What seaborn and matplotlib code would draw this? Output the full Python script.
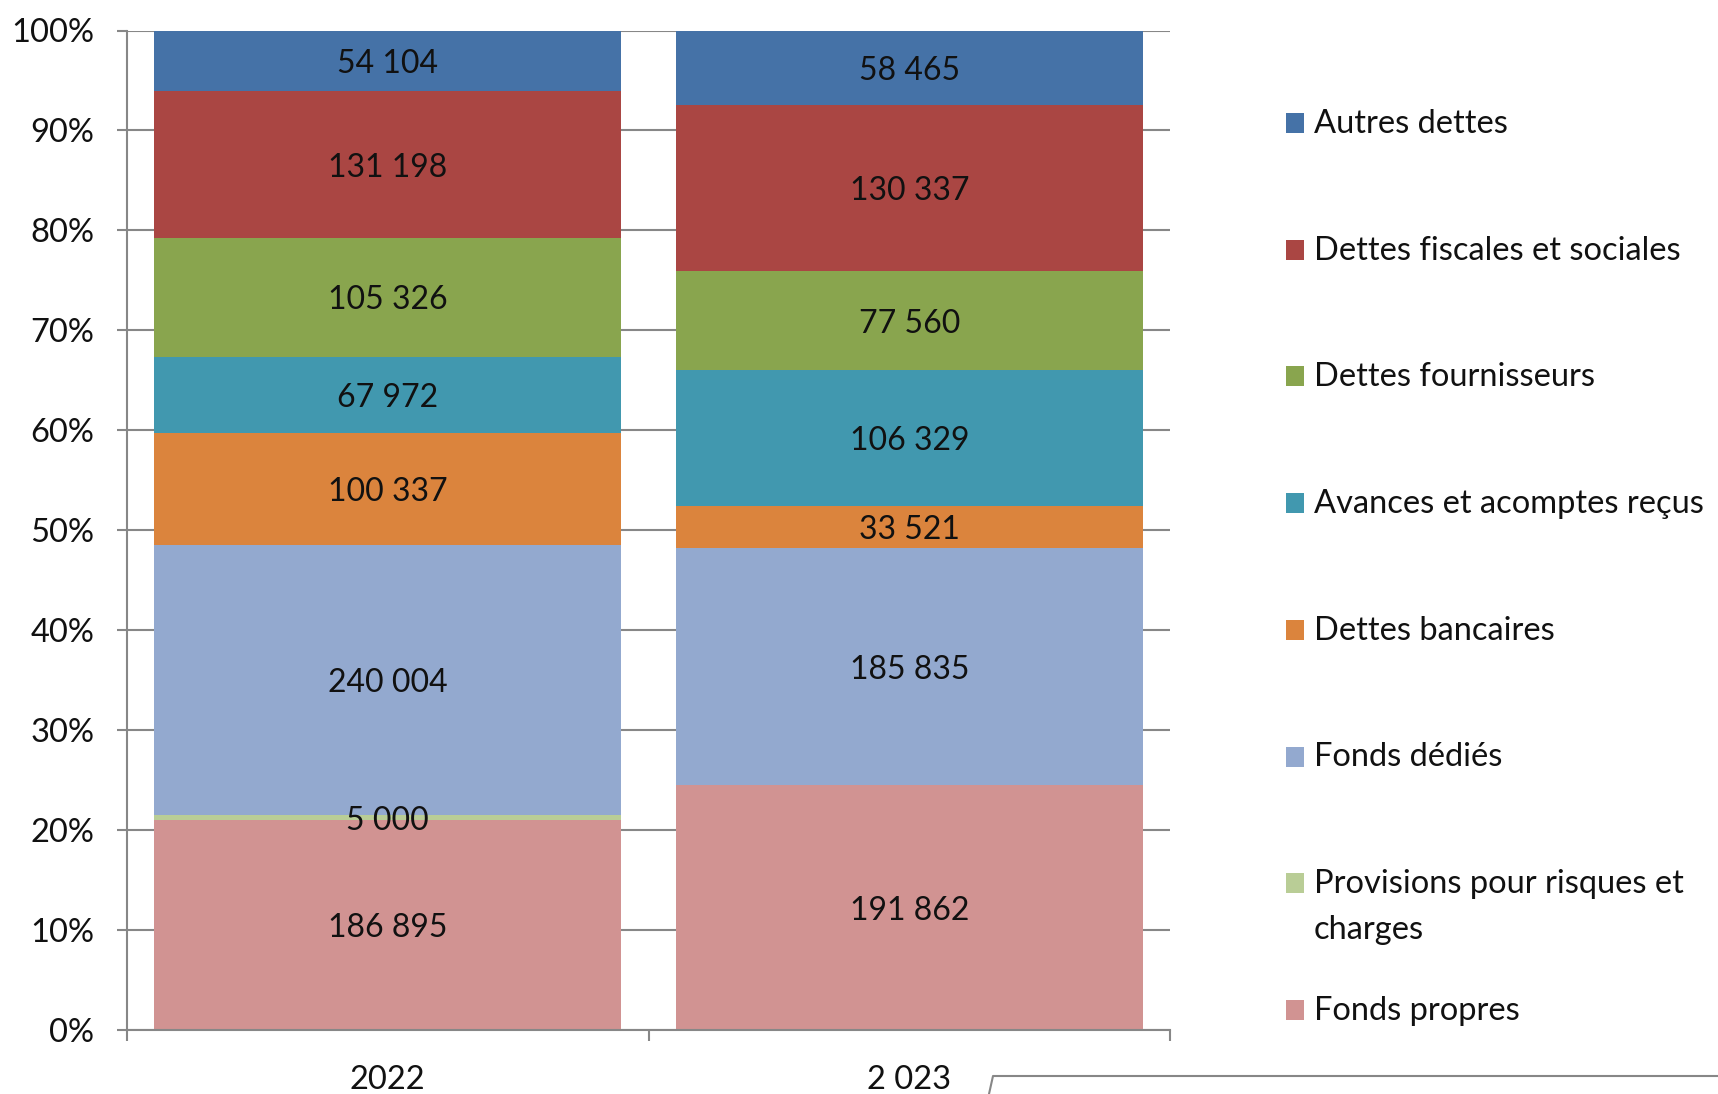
import matplotlib
matplotlib.use("Agg")
import matplotlib.pyplot as plt
import seaborn as sns
import pandas as pd
import numpy as np
from matplotlib.patches import Rectangle
from matplotlib.lines import Line2D

# ---------------- data ----------------
years = ["2022", "2 023"]
series = ["Fonds propres", "Provisions pour risques et charges", "Fonds dédiés",
          "Dettes bancaires", "Avances et acomptes reçus", "Dettes fournisseurs",
          "Dettes fiscales et sociales", "Autres dettes"]
fonds_propres = [186895, 191862]
provisions = [5000, 0]
fonds_dedies = [240004, 185835]
dettes_bancaires = [100337, 33521]
avances = [67972, 106329]
dettes_fournisseurs = [105326, 77560]
dettes_fiscales = [131198, 130337]
autres_dettes = [54104, 58465]
legend_labels = ["Autres dettes", "Dettes fiscales et sociales", "Dettes fournisseurs",
                 "Avances et acomptes reçus", "Dettes bancaires", "Fonds dédiés",
                 "Provisions pour risques et\ncharges", "Fonds propres"]
colors = ["#D19392", "#B9CD96", "#93A9CF", "#DB843D", "#4198AF", "#89A54E", "#AA4643", "#4572A7"]
ytick_labels = ["0%", "10%", "20%", "30%", "40%", "50%", "60%", "70%", "80%", "90%", "100%"]

values = [fonds_propres, provisions, fonds_dedies, dettes_bancaires, avances,
          dettes_fournisseurs, dettes_fiscales, autres_dettes]

# ---------------- build table ----------------
vals = np.array(values, dtype=float)
totals = vals.sum(axis=0)
pct = vals / totals
cum_top = np.cumsum(pct, axis=0)
cum_bot = cum_top - pct
rows = []
for si, s in enumerate(series):
    for yi, y in enumerate(years):
        rows.append(dict(year=y, series=s, value=vals[si, yi], pct=pct[si, yi],
                         top=cum_top[si, yi], bottom=cum_bot[si, yi]))
df = pd.DataFrame(rows)

# ---------------- style ----------------
sns.set_theme(style="white")
plt.rcParams["font.family"] = ["Lato", "DejaVu Sans"]
GRAY = "#878787"
FS = 23.5
FS_LAB = 23

fig = plt.figure(figsize=(17.18, 10.94), dpi=100)
ax = fig.add_axes([127 / 1718, 64 / 1094, (1170 - 127) / 1718, (1030 - 30.5) / 1094])

# stacked bars: draw cumulative heights from top series down
for si in range(len(series) - 1, -1, -1):
    sub = df[df.series == series[si]]
    sns.barplot(data=sub, x="year", y="top", order=years, color=colors[si],
                saturation=1, width=0.895, errorbar=None, linewidth=0, ax=ax, zorder=2)

# data labels
for _, r in df.iterrows():
    if r.value > 0:
        xi = years.index(r.year)
        txt = f"{int(r.value):,}".replace(",", " ")
        ax.text(xi, (r.top + r.bottom) / 2, txt, ha="center", va="center_baseline",
                fontsize=FS_LAB, color="#111111", zorder=5)

ax.set_xlim(-0.5, 1.5)
ax.set_ylim(0, 1)
ax.set_xlabel("")
ax.set_ylabel("")
ax.set_yticks(np.linspace(0, 1, 11))
ax.set_yticklabels(ytick_labels, fontsize=FS, color="#111111")
ax.set_xticks([0, 1])
ax.set_xticklabels(years, fontsize=FS, color="#111111")
ax.set_xticks([-0.5, 0.5, 1.5], minor=True)
ax.tick_params(axis="y", which="major", length=7.5, width=1.5, color=GRAY, pad=16, left=True)
ax.tick_params(axis="x", which="major", length=0, pad=25)
ax.tick_params(axis="x", which="minor", length=8, width=1.5, color=GRAY, bottom=True)

ax.grid(axis="y", color=GRAY, linewidth=1.5, zorder=0)
ax.grid(axis="x", visible=False)
ax.set_axisbelow(True)
for sp in ["top", "right"]:
    ax.spines[sp].set_visible(False)
for sp in ["left", "bottom"]:
    ax.spines[sp].set_color(GRAY)
    ax.spines[sp].set_linewidth(1.5)

# legend (top to bottom)
leg_colors = colors[::-1]
LINE_PX = 46
for i, (lab, col) in enumerate(zip(legend_labels, leg_colors)):
    yc = 123 + i * 126.7
    fig.add_artist(Rectangle((1286 / 1718, (1094 - yc - 10) / 1094), 18 / 1718, 20 / 1094,
                             transform=fig.transFigure, facecolor=col, edgecolor="none"))
    lines = lab.split("\n")
    for li, line in enumerate(lines):
        fig.text(1314 / 1718, (1094 - yc - 10 - li * LINE_PX) / 1094, line, fontsize=FS,
                 color="#111111", ha="left", va="baseline")

# border fragment at bottom right
fig.add_artist(Line2D([989 / 1718, 993 / 1718, 1.0], [0.0, 18 / 1094, 18 / 1094],
                      transform=fig.transFigure, color=GRAY, linewidth=1.5))

fig.savefig("out.png", dpi=100)
